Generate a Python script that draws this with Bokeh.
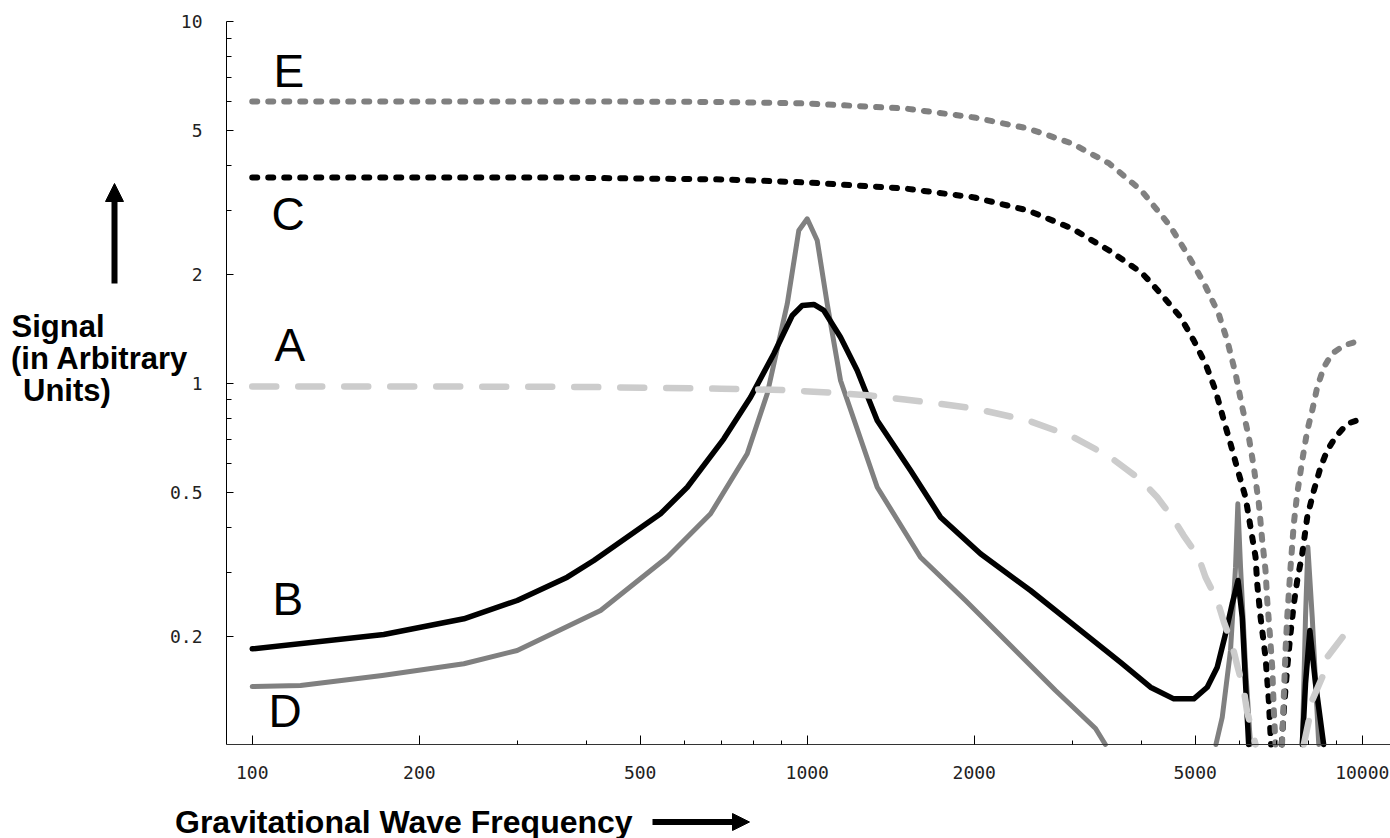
import numpy as np
from bokeh.plotting import figure
from bokeh.models import FixedTicker, CustomJSTickFormatter, Label, Arrow, NormalHead, Range1d
from bokeh.embed import file_html
from bokeh.resources import INLINE

nan = float("nan")

# ---------------- data (frequency in Hz, signal in arbitrary units) ----------------
x_ticks = [100, 200, 500, 1000, 2000, 5000, 10000]
x_minor = [300, 400, 600, 700, 800, 900, 3000, 4000, 6000, 7000, 8000, 9000]
y_ticks = [0.2, 0.5, 1, 2, 5, 10]
y_minor = [0.3, 0.4, 0.6, 0.7, 0.8, 0.9, 3, 4, 6, 7, 8, 9]

# Curve A (light grey, dashed); nan = below the plotted range
a_freq = [100, 200, 400, 700, 900, 1100, 1300, 1500, 1800, 2000, 2500, 3000, 3500, 4000,
          4272, 4546, 4764, 5070, 5220, 5480, 5632, 5831, 5954, 6119, 6206, 6424,
          7125, 7849, 8014, 8127, 8472, 8648, 9266]
a_sig = [0.980, 0.980, 0.977, 0.966, 0.958, 0.943, 0.925, 0.902, 0.871, 0.852, 0.789, 0.713, 0.628, 0.539,
         0.484, 0.427, 0.380, 0.331, 0.291, 0.251, 0.219, 0.189, 0.166, 0.142, 0.123, 0.1004,
         nan, 0.1004, 0.117, 0.133, 0.154, 0.175, 0.201]

# Curve B (black, solid)
b_freq = [100, 172.6, 240.6, 300.2, 369.5, 412.6, 544.1, 607.9, 707.5, 790.4, 870.6,
          939.7, 979.5, 1027.8, 1071.3, 1148.2, 1230.5, 1337.0, 1535.6, 1738.8, 2052.4,
          2525.5, 3107.2, 3669.4, 4154, 4576, 4972, 5257, 5480, 5672, 5831,
          5974, 6079, 6163, 6243, 6979, 7800, 7904, 8047, 8239, 8520]
b_sig = [0.1845, 0.2022, 0.2234, 0.2510, 0.2911, 0.3237, 0.4358, 0.5161, 0.7023, 0.9154, 1.2066,
         1.5395, 1.6410, 1.6515, 1.5898, 1.3408, 1.0849, 0.7889, 0.5741, 0.4265, 0.3378,
         0.2675, 0.2074, 0.1692, 0.1445, 0.1342, 0.1342, 0.1445, 0.1642, 0.2031, 0.2458,
         0.2851, 0.2257, 0.1481, 0.1004, nan, 0.1004, 0.1481, 0.2074, 0.1481, 0.1004]

# Curve C (black, dotted)
c_freq = [100, 340, 700, 800, 1000, 1500, 2000, 2500, 3000, 3500, 4000, 4154, 4390, 4705, 4972,
          5220, 5441, 5632, 5790, 5969, 6163, 6292, 6424, 6469, 6558, 6695, 6787, 6850, 7008, 7160,
          7224, 7327, 7428, 7530, 7637, 7797, 7961, 8181, 8412, 8648, 8950, 9397, 10000]
c_sig = [3.706, 3.706, 3.66, 3.636, 3.589, 3.455, 3.263, 3.003, 2.679, 2.328, 2.024, 1.903, 1.729, 1.523, 1.313,
         1.132, 0.955, 0.789, 0.681, 0.574, 0.484, 0.400, 0.331, 0.279, 0.226, 0.175, 0.133, 0.1004, nan, 0.1004,
         0.125, 0.164, 0.204, 0.246, 0.285, 0.338, 0.427, 0.505, 0.586, 0.652, 0.710, 0.773, 0.798]

# Curve D (grey, solid)
d_freq = [100, 122.2, 171.5, 240.6, 300.2, 424.3, 559.5, 669.6, 779.6, 847.1,
          920.5, 965.7, 1000, 1042.4, 1086.5, 1148.2, 1337.0, 1599.8, 1928.3, 2324.6,
          2801.6, 3307.5, 3445, 4500, 5450, 5595, 5790, 5912, 5969, 6036,
          6163, 6290, 6900, 7800, 7904, 7981, 8127, 8350]
d_sig = [0.1451, 0.1461, 0.1557, 0.1678, 0.1826, 0.2355, 0.3306, 0.4358, 0.6384, 0.9354,
         1.6588, 2.6453, 2.8489, 2.4808, 1.6588, 1.0180, 0.5161, 0.3306, 0.2510, 0.1885,
         0.1415, 0.1111, 0.1004, nan, 0.1004, 0.1194, 0.1826, 0.3103, 0.4645, 0.3103,
         0.1642, 0.1004, nan, 0.1004, 0.2257, 0.3524, 0.2257, 0.1004]

# Curve E (grey, dotted)
e_freq = [100, 400, 700, 1000, 1500, 2000, 2500, 3000, 3500, 4000, 4500, 4837, 5177, 5509, 5712,
          5912, 6079, 6247, 6378, 6512, 6604, 6695, 6743, 6816, 6884, 6930, 6979, 7081, 7170, 7275,
          7327, 7428, 7530, 7637, 7797, 7961, 8127, 8298, 8528, 8830, 9266, 10000]
e_sig = [6.011, 6.011, 5.992, 5.935, 5.749, 5.429, 5.061, 4.601, 4.051, 3.411, 2.730, 2.280, 1.903, 1.560, 1.313,
         1.064, 0.859, 0.710, 0.586, 0.465, 0.368, 0.304, 0.251, 0.2035, 0.164, 0.125, 0.1004, nan, 0.1004, 0.183,
         0.226, 0.310, 0.410, 0.496, 0.612, 0.740, 0.841, 0.976, 1.108, 1.209, 1.272, 1.319]

curve_names = ["E", "C", "A", "B", "D"]
x_title = "Gravitational Wave Frequency"
y_title_lines = ["Signal", "(in Arbitrary", "Units)"]

# axis extent (data units)
x_lo, x_hi = 89.89, 11245
y_lo, y_hi = 0.10038, 10.0

# ---------------- figure (frame covers the whole canvas; axes at fixed locations) ----------------
W, H = 1390, 838
p = figure(width=W, height=H, x_axis_type="log", y_axis_type="log",
           x_range=Range1d(35.19, 11245), y_range=Range1d(0.05518, 11.43),
           output_backend="svg", toolbar_location=None,
           min_border_left=0, min_border_right=0, min_border_top=0, min_border_bottom=0)
p.outline_line_color = None
p.grid.visible = False
p.background_fill_color = "white"
p.border_fill_color = "white"

fmt = "return tick.toString();"
xa = p.xaxis[0]
xa.fixed_location = y_lo
xa.bounds = (x_lo, x_hi)
xa.ticker = FixedTicker(ticks=x_ticks, minor_ticks=x_minor)
xa.formatter = CustomJSTickFormatter(code=fmt)
xa.major_tick_in = 9
xa.major_tick_out = 0
xa.minor_tick_in = 4
xa.minor_tick_out = 0
xa.major_label_standoff = 22
xa.axis_line_color = "#333333"

ya = p.yaxis[0]
ya.fixed_location = x_lo
ya.bounds = (y_lo, y_hi + 0.0001)
ya.ticker = FixedTicker(ticks=y_ticks, minor_ticks=y_minor)
ya.formatter = CustomJSTickFormatter(code=fmt)
ya.major_tick_in = 7
ya.major_tick_out = 0
ya.minor_tick_in = 5
ya.minor_tick_out = 0
ya.major_label_standoff = 24
ya.axis_line_color = "black"

for ax in (xa, ya):
    ax.major_label_text_font = "DejaVu Sans Mono"
    ax.major_label_text_font_size = "18px"
    ax.major_label_text_color = "#222222"
    ax.major_tick_line_color = "black"
    ax.minor_tick_line_color = "black"
    ax.axis_line_width = 1

GREY = "#808080"
LIGHT = "#cccccc"

def arr(v):
    return np.array(v, dtype=float)

p.line(arr(d_freq), arr(d_sig), line_color=GREY, line_width=5, line_join="round", line_cap="round")
p.line(arr(b_freq), arr(b_sig), line_color="black", line_width=5.5, line_join="round", line_cap="round")
p.line(arr(c_freq), arr(c_sig), line_color="black", line_width=6, line_dash="5 11", line_cap="round", line_join="round")
p.line(arr(e_freq), arr(e_sig), line_color=GREY, line_width=6, line_dash="5 11", line_cap="round", line_join="round")
p.line(arr(a_freq), arr(a_sig), line_color=LIGHT, line_width=6.5, line_dash="24 22", line_cap="round", line_join="round")

# ---------------- text (screen units from the canvas' lower-left corner) ----------------
def add_text(text, sx, sy, size, bold=False):
    p.add_layout(Label(x=sx, y=sy, x_units="screen", y_units="screen", text=text,
                       text_font="Liberation Sans", text_font_size=f"{size}px",
                       text_font_style="bold" if bold else "normal", text_color="black",
                       text_baseline="middle", text_align="left"))

letter_pos = [(273, 768), (271, 625), (274, 494), (272, 240), (268, 128)]
for name, (sx, sy) in zip(curve_names, letter_pos):
    add_text(name, sx, sy, 46)

title_pos = [(11, 512), (10.5, 480), (22.5, 448)]
for line_txt, (sx, sy) in zip(y_title_lines, title_pos):
    add_text(line_txt, sx, sy, 31, bold=True)

add_text(x_title, 174.5, 17, 32, bold=True)

p.add_layout(Arrow(x_start=114, y_start=555, x_end=114, y_end=655,
                   start_units="screen", end_units="screen",
                   line_width=6, line_color="black",
                   end=NormalHead(size=18, fill_color="black", line_color="black", line_width=1)))
p.add_layout(Arrow(x_start=652, y_start=16.5, x_end=749, y_end=16.5,
                   start_units="screen", end_units="screen",
                   line_width=6, line_color="black",
                   end=NormalHead(size=17, fill_color="black", line_color="black", line_width=1)))

open("out.html", "w").write(file_html(p, INLINE))
